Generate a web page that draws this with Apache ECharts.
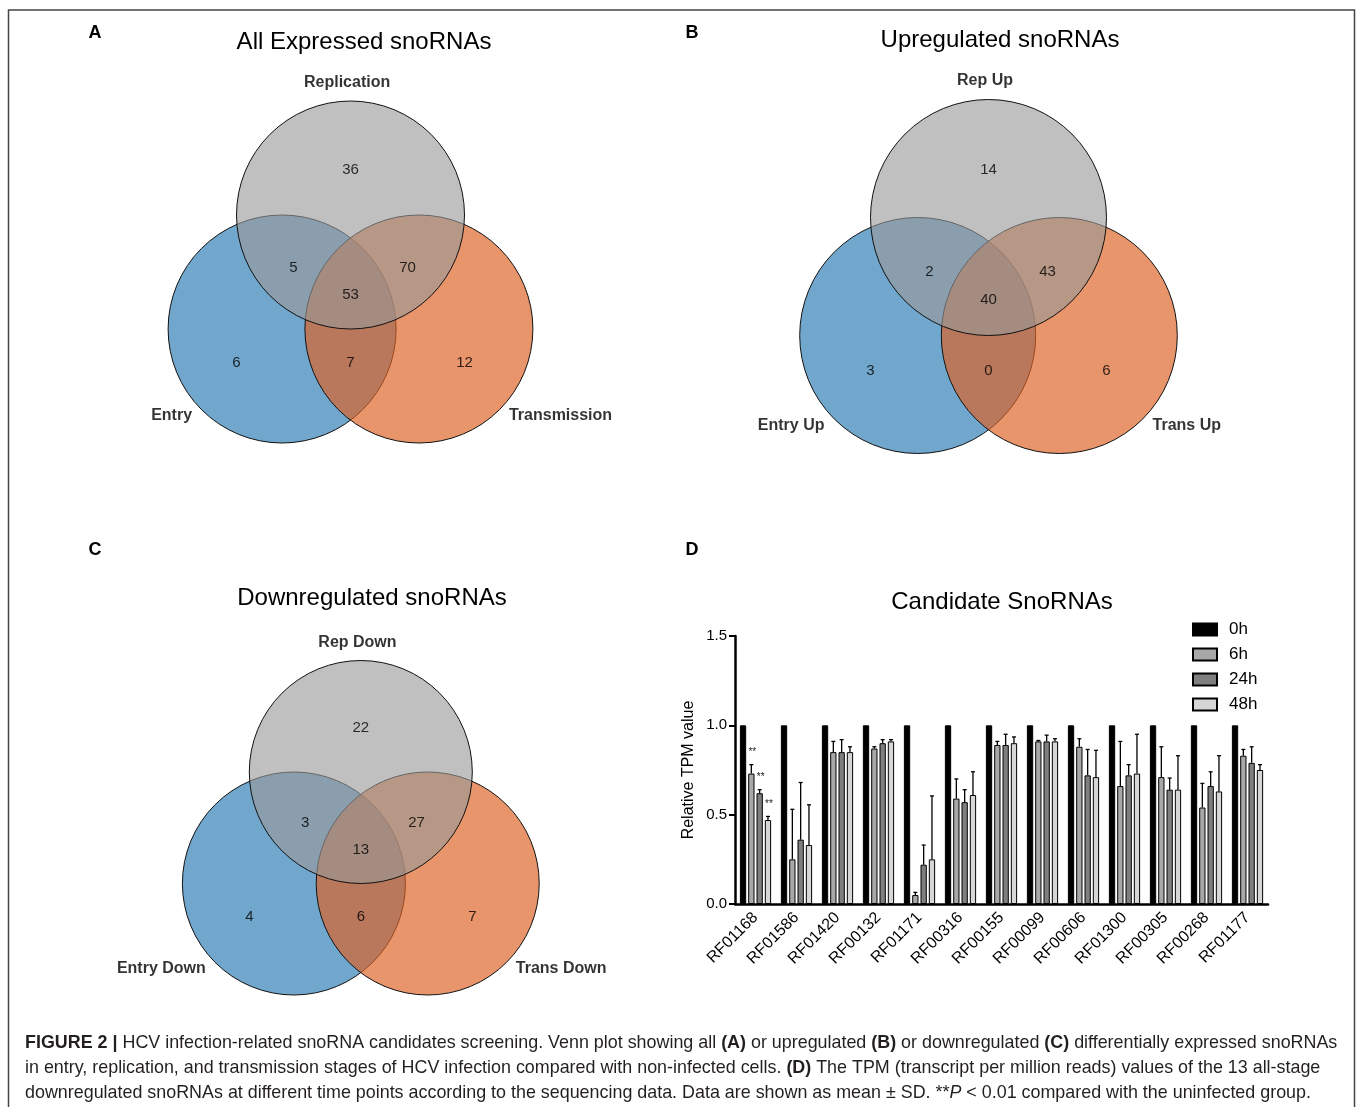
<!DOCTYPE html>
<html>
<head>
<meta charset="utf-8">
<script src="https://cdn.jsdelivr.net/npm/echarts@6/dist/echarts.min.js"></script>
<style>
  html, body { margin: 0; padding: 0; background: #fff; }
  #main { width: 1357px; height: 1107px; }
</style>
</head>
<body>
<div id="main"></div>
<script>
// ---- data ----
// venn regions: Rep only, Entry&Rep, Rep&Trans, all three, Entry only, Entry&Trans, Trans only
var countsAll = [36, 5, 70, 53, 6, 7, 12];
var countsUp = [14, 2, 43, 40, 3, 0, 6];
var countsDown = [22, 3, 27, 13, 4, 6, 7];
var setsAll = ['Replication', 'Entry', 'Transmission'];
var setsUp = ['Rep Up', 'Entry Up', 'Trans Up'];
var setsDown = ['Rep Down', 'Entry Down', 'Trans Down'];

// bar chart
var snoRNAs = ['RF01168', 'RF01586', 'RF01420', 'RF00132', 'RF01171', 'RF00316', 'RF00155',
  'RF00099', 'RF00606', 'RF01300', 'RF00305', 'RF00268', 'RF01177'];
var times = ['0h', '6h', '24h', '48h'];
var mean0h = [1, 1, 1, 1, 1, 1, 1, 1, 1, 1, 1, 1, 1];
var mean6h = [0.73, 0.25, 0.85, 0.87, 0.05, 0.59, 0.89, 0.91, 0.88, 0.66, 0.71, 0.54, 0.83];
var mean24h = [0.62, 0.36, 0.85, 0.90, 0.22, 0.57, 0.89, 0.91, 0.72, 0.72, 0.64, 0.66, 0.79];
var mean48h = [0.47, 0.33, 0.85, 0.91, 0.25, 0.61, 0.90, 0.91, 0.71, 0.73, 0.64, 0.63, 0.75];
var sd6h = [0.05, 0.28, 0.06, 0.01, 0.015, 0.11, 0.02, 0.005, 0.045, 0.25, 0.17, 0.135, 0.035];
var sd24h = [0.02, 0.32, 0.07, 0.02, 0.11, 0.07, 0.06, 0.035, 0.145, 0.06, 0.065, 0.08, 0.09];
var sd48h = [0.02, 0.225, 0.03, 0.01, 0.355, 0.13, 0.035, 0.015, 0.15, 0.22, 0.19, 0.2, 0.03];
var sig6h = ['**', '', '', '', '', '', '', '', '', '', '', '', ''];
var sig24h = ['**', '', '', '', '', '', '', '', '', '', '', '', ''];
var sig48h = ['**', '', '', '', '', '', '', '', '', '', '', '', ''];

// ---- layout ----
var FONT = '"Liberation Sans", Arial, sans-serif';
// circle centres in radius units: entry, trans, rep
var vennCircles = [[-0.6, -1, 0], [0.6, -1, 1], [0, 0, 2]];
var vennFill = ['#72a7cd', 'rgba(221,97,34,0.67)', 'rgba(153,153,153,0.62)'];
var regionPos = [[0, 0.4], [-0.5, -0.46], [0.5, -0.46], [0, -0.7], [-1.0, -1.3], [0, -1.3], [1.0, -1.3]];
var panels = [
  { cx: 350.5, cy: 215, r: 114, counts: countsAll, sets: setsAll },
  { cx: 988.5, cy: 217.5, r: 118, counts: countsUp, sets: setsUp },
  { cx: 360.8, cy: 772, r: 111.5, counts: countsDown, sets: setsDown }
];

var barW = 6.3, gapRatio = 0.32;

var grids = [], xAxes = [], yAxes = [], series = [];
panels.forEach(function (p, i) {
  grids.push({ left: p.cx - 2 * p.r, top: p.cy - 1.5 * p.r, width: 4 * p.r, height: 3.5 * p.r });
  xAxes.push({ type: 'value', gridIndex: i, min: -2, max: 2, show: false });
  yAxes.push({ type: 'value', gridIndex: i, min: -2, max: 1.5, show: false });
  series.push({
    type: 'custom', xAxisIndex: i, yAxisIndex: i, clip: false, silent: true,
    data: vennCircles,
    renderItem: function (params, api) {
      var c = api.coord([api.value(0), api.value(1)]);
      var r = api.size([1, 0])[0];
      return {
        type: 'circle',
        shape: { cx: c[0], cy: c[1], r: r },
        style: { fill: vennFill[api.value(2)], stroke: '#111', lineWidth: 1 }
      };
    }
  });
  series.push({
    type: 'scatter', xAxisIndex: i, yAxisIndex: i, symbolSize: 0, silent: true,
    data: p.counts.map(function (v, k) { return [regionPos[k][0], regionPos[k][1], v]; }),
    label: {
      show: true, position: 'inside', color: '#000', fontSize: 15, fontFamily: FONT,
      formatter: function (d) { return String(d.value[2]); }
    }
  });
  series.push({
    type: 'scatter', xAxisIndex: i, yAxisIndex: i, symbolSize: 0, silent: true,
    label: { show: true, color: '#000', fontSize: 16, fontWeight: 'bold', fontFamily: FONT, distance: 0,
      formatter: function (d) { return d.name; } },
    data: [
      { name: p.sets[0], value: [-0.03, 1.16], label: { position: 'inside' } },
      { name: p.sets[1], value: [-1.39, -1.76], label: { position: 'left' } },
      { name: p.sets[2], value: [1.39, -1.76], label: { position: 'right' } }
    ]
  });
});

// bar panel
grids.push({ left: 735, top: 636, right: 89, bottom: 203 });
xAxes.push({
  type: 'category', gridIndex: 3, data: snoRNAs,
  axisLine: { lineStyle: { color: '#000', width: 2.5 } },
  axisTick: { alignWithLabel: true, length: 6, lineStyle: { color: '#000', width: 2 } },
  axisLabel: { rotate: 45, fontSize: 16, color: '#000', fontFamily: FONT, margin: 11 }
});
yAxes.push({
  type: 'value', gridIndex: 3, min: 0, max: 1.5, interval: 0.5,
  name: 'Relative TPM value', nameLocation: 'middle', nameGap: 38,
  nameTextStyle: { fontSize: 16, color: '#000', fontFamily: FONT },
  splitLine: { show: false },
  axisLine: { show: true, lineStyle: { color: '#000', width: 2.5 } },
  axisTick: { show: true, length: 6, lineStyle: { color: '#000', width: 2 } },
  axisLabel: { fontSize: 15, color: '#000', fontFamily: FONT, margin: 8,
    formatter: function (v) { return v.toFixed(1); } }
});

var means = [mean0h, mean6h, mean24h, mean48h];
var sds = [null, sd6h, sd24h, sd48h];
var sigs = [null, sig6h, sig24h, sig48h];
var barColors = ['#000000', '#a8a8a8', '#7f7f7f', '#d6d6d6'];

times.forEach(function (t, k) {
  series.push({
    name: t, type: 'bar', xAxisIndex: 3, yAxisIndex: 3,
    barWidth: barW, barGap: (gapRatio * 100) + '%',
    itemStyle: { color: barColors[k], borderColor: '#000', borderWidth: 1 },
    data: means[k]
  });
});

[1, 2, 3].forEach(function (k) {
  var off = (k - 1.5) * barW * (1 + gapRatio);
  series.push({
    type: 'custom', xAxisIndex: 3, yAxisIndex: 3, silent: true, z: 3,
    data: means[k].map(function (m, i) { return [i, m, sds[k][i]]; }),
    renderItem: function (params, api) {
      var i = api.value(0), m = api.value(1), s = api.value(2);
      var base = api.coord([i, m]);
      var top = api.coord([i, m + s]);
      var x = base[0] + off;
      var children = [
        { type: 'line', shape: { x1: x, y1: base[1], x2: x, y2: top[1] }, style: { stroke: '#000', lineWidth: 1.3 } },
        { type: 'line', shape: { x1: x - 2, y1: top[1], x2: x + 2, y2: top[1] }, style: { stroke: '#000', lineWidth: 1.3 } }
      ];
      var sg = sigs[k][params.dataIndex];
      if (sg) {
        children.push({ type: 'text', x: x + 1, y: top[1] - 12,
          style: { text: sg, fill: '#222', align: 'center', verticalAlign: 'middle', font: '10px ' + FONT } });
      }
      return { type: 'group', children: children };
    }
  });
});

function txt(x, y, text, size, weight, align) {
  return { type: 'text', x: x, y: y, silent: true,
    style: { text: text, font: (weight || 'normal') + ' ' + size + 'px ' + FONT, fill: '#000',
      align: align || 'center', verticalAlign: 'middle' } };
}

var capSize = 17.9;
var capRich = {
  b: { fontWeight: 'bold', fontSize: capSize, fontFamily: FONT, fill: '#231f20' },
  i: { fontStyle: 'italic', fontSize: capSize, fontFamily: FONT, fill: '#231f20' }
};
function cap(y, text) {
  return { type: 'text', x: 25, y: y, silent: true,
    style: { text: text, rich: capRich, fontSize: capSize, fontFamily: FONT, fill: '#231f20',
      align: 'left', verticalAlign: 'middle' } };
}

var chart = echarts.init(document.getElementById('main'));
chart.setOption({
  animation: false,
  backgroundColor: '#fff',
  grid: grids, xAxis: xAxes, yAxis: yAxes, series: series,
  legend: {
    data: times, orient: 'vertical', left: 1187, top: 616,
    itemWidth: 24, itemHeight: 12, itemGap: 8, icon: 'rect',
    textStyle: { fontSize: 17, color: '#000', fontFamily: FONT, padding: [0, 0, 0, 7] }
  },
  graphic: [
    { type: 'rect', silent: true, shape: { x: 8.5, y: 10, width: 1346, height: 1110 },
      style: { fill: 'none', stroke: '#444', lineWidth: 1.5 } },
    txt(95, 33, 'A', 18, 'bold'), txt(692, 33, 'B', 18, 'bold'),
    txt(95, 550, 'C', 18, 'bold'), txt(692, 550, 'D', 18, 'bold'),
    txt(364, 42, 'All Expressed snoRNAs', 24), txt(1000, 40, 'Upregulated snoRNAs', 24),
    txt(372, 598, 'Downregulated snoRNAs', 24), txt(1002, 602, 'Candidate SnoRNAs', 24),
    cap(1043, '{b|FIGURE 2 |} HCV infection-related snoRNA candidates screening. Venn plot showing all {b|(A)} or upregulated {b|(B)} or downregulated {b|(C)} differentially expressed snoRNAs'),
    cap(1068, 'in entry, replication, and transmission stages of HCV infection compared with non-infected cells. {b|(D)} The TPM (transcript per million reads) values of the 13 all-stage'),
    cap(1093, 'downregulated snoRNAs at different time points according to the sequencing data. Data are shown as mean \u00b1 SD. **{i|P} < 0.01 compared with the uninfected group.')
  ]
});
</script>
</body>
</html>
